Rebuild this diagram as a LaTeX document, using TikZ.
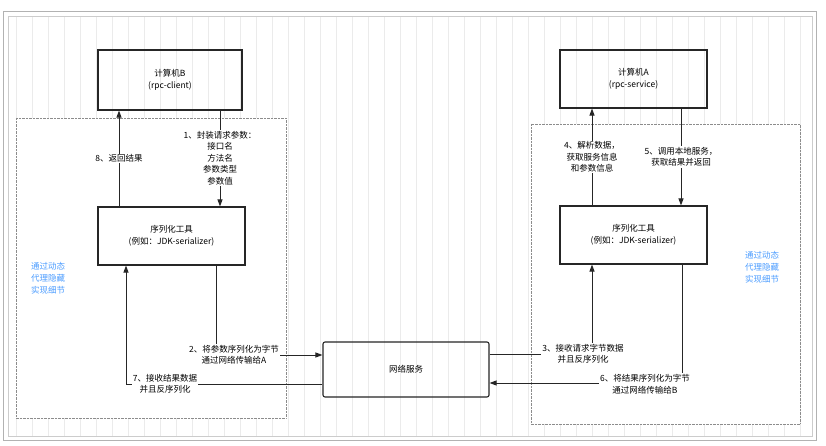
\documentclass[tikz,border=0pt]{standalone}
\usepackage{fontspec}
\setmainfont{Noto Sans CJK SC}
\usetikzlibrary{arrows.meta}
\begin{document}
\begin{tikzpicture}[x=1pt,y=-1pt,
  box/.style={draw=black!85,line width=1.1pt,inner sep=0pt,align=center,font=\fontsize{8.5}{12}\selectfont},
  lbl/.style={fill=white,inner sep=1pt,align=center,font=\fontsize{8.5}{11.5}\selectfont},
  blue/.style={text=blue!55!cyan!70,align=left,font=\fontsize{8.5}{12}\selectfont},
  arr/.style={draw=black!85,line width=1pt,-{Triangle[length=7pt,width=5pt]}},
  region/.style={draw=black!45,densely dotted,fill=white}]
\useasboundingbox (0,0) rectangle (826,446);
\fill[white] (0,0) rectangle (826,446);
\draw[black!30,line width=0.8pt] (3,11) rectangle (816,440);
\draw[black!8,line width=0.3pt] (8,16) grid[step=16] (812,436);
\draw[black!20] (8,16) rectangle (812,436);
\draw[region] (16,118) rectangle (286,418);
\draw[region] (531,124) rectangle (800,424);
\node[box,minimum width=144,minimum height=60] (B) at (170,80) {计算机B\\(rpc-client)};
\node[box,minimum width=147,minimum height=58] (A) at (633.5,79) {计算机A\\(rpc-service)};
\node[box,minimum width=147,minimum height=58] (SB) at (171.5,236) {序列化工具\\(例如：JDK-serializer)};
\node[box,minimum width=147,minimum height=58] (SA) at (633.5,235) {序列化工具\\(例如：JDK-serializer)};
\node[box,rounded corners=2pt,minimum width=166,minimum height=55] (N) at (406,369.5) {网络服务};
\node[blue] at (48,278) {通过动态\\代理隐藏\\实现细节};
\node[blue] at (762,267) {通过动态\\代理隐藏\\实现细节};
% left
\draw[arr] (SB.north -| 119,0) -- (B.south -| 119,0) node[lbl,midway] (l8) {8、返回结果};
\draw[arr] (B.south -| 220,0) -- (SB.north -| 220,0);
\node[lbl] (l1) at (220,158) {1、封装请求参数：\\接口名\\方法名\\参数类型\\参数值};
\coordinate (c2) at (216,355);
\draw[arr] (SB.south -| c2) -- (c2) -- (N.west |- c2);
\node[lbl] (l2) at (234,355) {2、将参数序列化为字节\\通过网络传输给A};
\coordinate (c7) at (126,384);
\draw[arr] (N.west |- c7) -- (c7) -- (SB.south -| c7);
\node[lbl] (l7) at (165,384) {7、接收结果数据\\并且反序列化};
% right
\coordinate (c3) at (592,354);
\draw[arr] (N.east |- c3) -- (c3) -- (SA.south -| c3);
\node[lbl] (l3) at (583,354) {3、接收请求字节数据\\并且反序列化};
\coordinate (c6) at (682,383);
\draw[arr] (SA.south -| c6) -- (c6) -- (N.east |- c6);
\node[lbl] (l6) at (645,384) {6、将结果序列化为字节\\通过网络传输给B};
\draw[arr] (SA.north -| 592,0) -- (A.south -| 592,0);
\node[lbl] (l4) at (592,157) {4、解析数据，\\获取服务信息\\和参数信息};
\draw[arr] (A.south -| 681,0) -- (SA.north -| 681,0);
\node[lbl] (l5) at (681,157) {5、调用本地服务，\\获取结果并返回};
\end{tikzpicture}
\end{document}
